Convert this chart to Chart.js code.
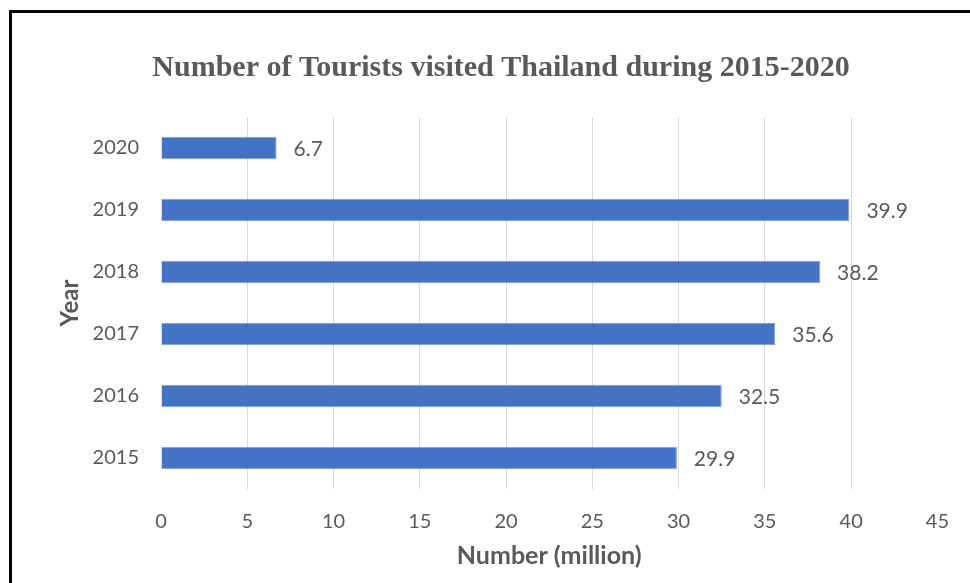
<!DOCTYPE html>
<html>
<head>
<meta charset="utf-8">
<script src="https://cdn.jsdelivr.net/npm/chart.js@4.4.1/dist/chart.umd.min.js"></script>
<style>
    html, body { margin: 0; padding: 0; background: #fff; overflow: hidden; }
    .frame {
        position: absolute; left: 9px; top: 10px;
        width: 1000px; height: 700px;
        border: 3px solid #000; box-sizing: border-box;
    }
    .wrap { position: absolute; left: 0; top: 0; width: 970px; height: 583px; }
</style>
</head>
<body>
<div class="frame"></div>
<div class="wrap"><canvas id="tourists" width="970" height="583"></canvas></div>
<script>
// Годы и число туристов (млн)
const years = ['2015', '2016', '2017', '2018', '2019', '2020'];
const tourists = [29.9, 32.5, 35.6, 38.2, 39.9, 6.7];
const xTicks = [0, 5, 10, 15, 20, 25, 30, 35, 40, 45];
const chartTitle = 'Number of Tourists visited Thailand during 2015-2020';

const textColor = '#595959';
const bodyFont = 'Lato, "Open Sans", sans-serif';

// Заголовок над всей областью рамки
const titleText = {
    id: 'titleText',
    afterDraw(chart) {
        const ctx = chart.ctx;
        ctx.save();
        ctx.font = 'bold 30px "Liberation Serif", "Times New Roman", serif';
        ctx.fillStyle = textColor;
        ctx.textAlign = 'center';
        ctx.textBaseline = 'middle';
        ctx.fillText(chartTitle, 501, 68);
        ctx.restore();
    }
};

// Подписи значений справа от полос
const valueLabels = {
    id: 'valueLabels',
    afterDatasetsDraw(chart) {
        const ctx = chart.ctx;
        const meta = chart.getDatasetMeta(0);
        ctx.save();
        ctx.font = '21px ' + bodyFont;
        ctx.fillStyle = textColor;
        ctx.textAlign = 'left';
        ctx.textBaseline = 'middle';
        meta.data.forEach((bar, i) => {
            ctx.fillText(String(tourists[i]), bar.x + 17, bar.y + 1);
        });
        ctx.restore();
    }
};

new Chart(document.getElementById('tourists'), {
    type: 'bar',
    data: {
        labels: years,
        datasets: [{
            data: tourists,
            backgroundColor: '#4472c4',
            borderColor: '#7f9fd8',
            borderWidth: 1,
            categoryPercentage: 1,
            barPercentage: 0.36
        }]
    },
    options: {
        indexAxis: 'y',
        responsive: false,
        animation: false,
        layout: { padding: { left: 0, right: 30, top: 117, bottom: 0 } },
        plugins: {
            legend: { display: false },
            tooltip: { enabled: false },
            title: { display: false }
        },
        scales: {
            x: {
                min: 0,
                max: 45,
                afterBuildTicks(scale) {
                    scale.ticks = xTicks.map(v => ({ value: v }));
                },
                afterFit(scale) { scale.height = 94; },
                border: { display: false },
                grid: {
                    drawTicks: false,
                    color: c => (c.tick && (c.tick.value === 0 || c.tick.value === 45)) ? 'rgba(0,0,0,0)' : '#d9d9d9',
                    lineWidth: 1
                },
                ticks: { color: textColor, font: { family: bodyFont, size: 20 }, padding: 21 },
                title: {
                    display: true,
                    text: 'Number (million)',
                    color: textColor,
                    font: { family: bodyFont, size: 25, weight: 'bold' },
                    padding: { top: 0, bottom: 12 }
                }
            },
            y: {
                reverse: true,
                afterFit(scale) { scale.width = 161; },
                border: { display: false },
                grid: { display: false, drawTicks: false },
                ticks: { color: textColor, font: { family: bodyFont, size: 20 }, padding: 22 },
                title: {
                    display: true,
                    text: 'Year',
                    color: textColor,
                    font: { family: bodyFont, size: 24, weight: 'bold' },
                    padding: { top: 56, bottom: 0 }
                }
            }
        }
    },
    plugins: [valueLabels, titleText]
});
</script>
</body>
</html>
